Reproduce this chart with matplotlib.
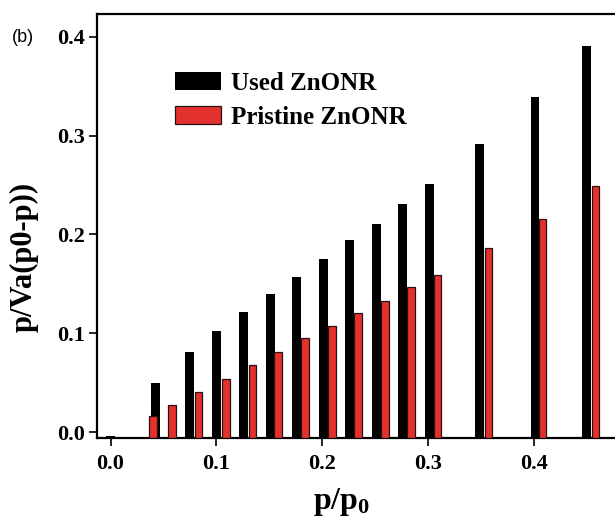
import matplotlib
matplotlib.use("Agg")
import matplotlib.pyplot as plt

plt.rcParams['font.family'] = ['Liberation Serif', 'DejaVu Serif']
plt.rcParams['font.weight'] = 'bold'
plt.rcParams['mathtext.fontset'] = 'custom'
plt.rcParams['mathtext.rm'] = 'Liberation Serif:bold'
plt.rcParams['mathtext.bf'] = 'Liberation Serif:bold'
plt.rcParams['mathtext.it'] = 'Liberation Serif:bold'

# relative pressure p/p0 and BET term for each sample
x_used = [0.000, 0.042, 0.075, 0.100, 0.126, 0.151, 0.176, 0.201,
          0.226, 0.251, 0.276, 0.301, 0.349, 0.401, 0.450]
used = [-0.0035, 0.050, 0.081, 0.102, 0.121, 0.140, 0.157, 0.175,
        0.194, 0.211, 0.231, 0.251, 0.291, 0.339, 0.391]

x_pristine = [0.040, 0.058, 0.083, 0.109, 0.134, 0.158, 0.184, 0.209,
              0.234, 0.259, 0.284, 0.309, 0.357, 0.408, 0.458]
pristine = [0.016, 0.027, 0.041, 0.054, 0.068, 0.081, 0.095, 0.107,
            0.120, 0.133, 0.147, 0.159, 0.186, 0.216, 0.249]

labels = ['Used ZnONR', 'Pristine ZnONR']
xticks = [0.0, 0.1, 0.2, 0.3, 0.4]
yticks = [0.0, 0.1, 0.2, 0.3, 0.4]

W, H = 615, 521
fig = plt.figure(figsize=(W / 100, H / 100), dpi=100)
# axes run past the right edge so the frame is open on that side
ax = fig.add_axes([97 / W, (H - 437.5) / H, (640 - 97) / W, (437.5 - 14) / H])

ymin, ymax = -0.0055, 0.423
ax.set_xlim(-0.0128, 0.5002)
ax.set_ylim(ymin, ymax)

# columns rise from the bottom of the frame
b1 = ax.bar(x_used, [v - ymin for v in used], bottom=ymin, width=0.0085,
            color='black', linewidth=0, zorder=2, label=labels[0])
b2 = ax.bar(x_pristine, [v - ymin for v in pristine], bottom=ymin, width=0.0072,
            color='#e3312d', edgecolor='#2a1010', linewidth=0.9, zorder=3,
            label=labels[1])

ax.set_xticks(xticks)
ax.set_yticks(yticks)
ax.set_xticklabels([f'{t:.1f}' for t in xticks])
ax.set_yticklabels([f'{t:.1f}' for t in yticks])
ax.tick_params(axis='both', direction='out', length=6, width=1.2,
               labelsize=16, top=False, right=False)
ax.tick_params(axis='x', pad=6)
ax.tick_params(axis='y', pad=3)

for side in ['left', 'bottom', 'top']:
    ax.spines[side].set_linewidth(1.6)
ax.spines['right'].set_visible(False)

ax.set_xlabel(r'$\mathbf{p/p_0}$', fontsize=23)
ax.xaxis.set_label_coords((342 - 97) / (640 - 97), -0.115)
fig.text(24 / W, 1 - 257 / H, 'p/Va(p0-p))', rotation=90, fontsize=22,
         fontweight='bold', ha='center', va='center')

fig.text(23 / W, 1 - 37 / H, '(b)', family='Liberation Sans', fontweight='normal',
         fontsize=13, ha='center', va='center')

leg = ax.legend(handles=[b1, b2], loc='upper left', frameon=False,
                bbox_to_anchor=(175 / W, 1 - 72 / H), bbox_transform=fig.transFigure,
                borderaxespad=0, borderpad=0, fontsize=18, handlelength=1.85,
                handleheight=0.75, handletextpad=0.4, labelspacing=0.42)

fig.savefig('out.png', dpi=100)
